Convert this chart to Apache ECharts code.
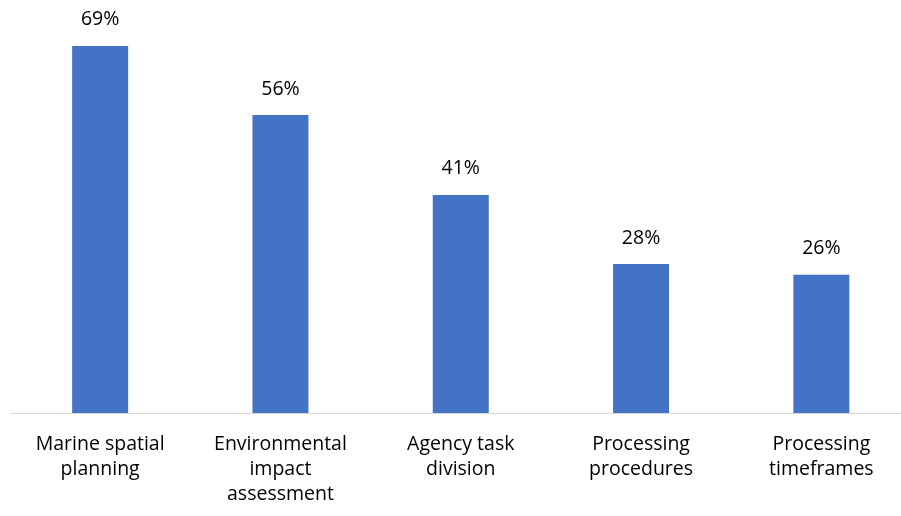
<!DOCTYPE html>
<html>
<head>
<meta charset="utf-8">
<script src="https://cdn.jsdelivr.net/npm/echarts@6/dist/echarts.min.js"></script>
<style>html,body{margin:0;padding:0;background:#fff;}#c{width:901px;height:516px;}</style>
</head>
<body>
<div id="c"></div>
<script>
var categories = ["Marine spatial\nplanning", "Environmental\nimpact\nassessment", "Agency task\ndivision", "Processing\nprocedures", "Processing\ntimeframes"];
var values = [69, 56, 41, 28, 26];

var chart = echarts.init(document.getElementById('c'));
chart.setOption({
  animation: false,
  grid: {left: 10, top: 40.6, width: 901.5, height: 372.4, containLabel: false, outerBoundsMode: 'none'},
  xAxis: {
    type: 'category',
    data: categories,
    axisLine: {lineStyle: {color: '#d9d9d9', width: 1}},
    axisTick: {show: false},
    axisLabel: {color: '#000', fontSize: 19.5, fontFamily: 'Open Sans, Noto Sans, sans-serif', lineHeight: 25, margin: 19, interval: 0}
  },
  yAxis: {
    type: 'value', min: 0, max: 70,
    show: false,
    splitLine: {show: false}
  },
  series: [{
    type: 'bar',
    data: values,
    barWidth: 56,
    itemStyle: {color: '#4472C4'},
    label: {show: true, position: 'top', distance: 16, formatter: '{c}%', color: '#000', fontSize: 19.5, fontFamily: 'Open Sans, Noto Sans, sans-serif'}
  }]
});
</script>
</body>
</html>
